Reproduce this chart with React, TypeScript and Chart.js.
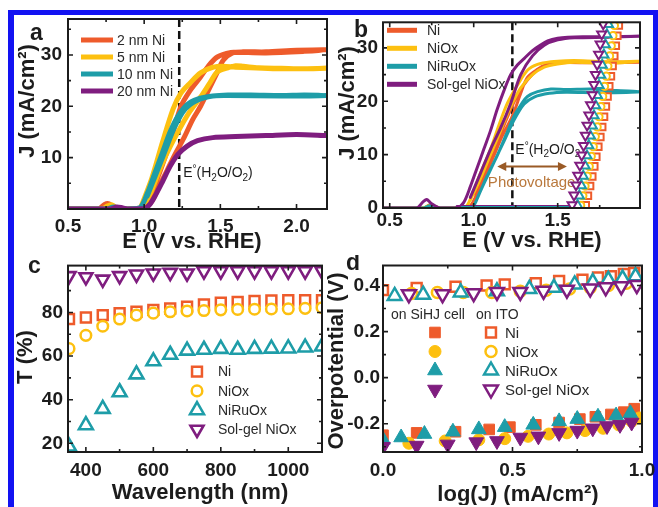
import React, { useEffect, useRef } from 'react';
import { Chart, registerables } from 'chart.js';
Chart.register(...registerables);

const FONT = '"Liberation Sans", Arial, Helvetica, sans-serif';
const INK = '#1c1c1c';
const ORANGE = '#EE5B2B';
const YELLOW = '#FDC010';
const TEAL = '#1E9DA8';
const PURPLE = '#7F1D7F';
const BLUE = '#1212F2';
const COLORS = [ORANGE, YELLOW, TEAL, PURPLE];

// ---------------- panel a ----------------
const A_SERIES = ['2 nm Ni', '5 nm Ni', '10 nm Ni', '20 nm Ni'];
const A_X_TICKS = [0.5, 1.0, 1.5, 2.0];
const A_X_LABELS = ['0.5', '1.0', '1.5', '2.0'];
const A_Y_TICKS = [10, 20, 30];
const A_Y_LABELS = ['10', '20', '30'];
const E0 = 1.23;
const A_NI2_E = [0.50, 0.70, 0.74, 0.77, 0.80, 0.90, 1.00, 1.05, 1.10, 1.15, 1.20, 1.26, 1.32, 1.37, 1.42, 1.47, 1.52, 1.58, 1.65, 1.80, 2.00, 2.20, 2.05, 1.80, 1.62, 1.57, 1.48, 1.42, 1.37, 1.30, 1.24, 1.17, 1.10, 1.03, 0.98];
const A_NI2_J = [0, 0, 0.9, 1.0, 0.2, 0, 0.1, 1.5, 4.5, 7.5, 10.5, 13.8, 17.5, 20, 23, 26, 29, 30.4, 30.6, 30.6, 30.9, 31.0, 30.7, 30.4, 30.5, 30.5, 29.6, 27.8, 25.7, 23, 19.9, 13, 7, 2, 0.2];
const A_NI5_E = [0.50, 0.72, 0.76, 0.79, 0.82, 0.90, 0.98, 1.04, 1.10, 1.16, 1.24, 1.30, 1.37, 1.43, 1.48, 1.55, 1.60, 1.65, 1.75, 1.90, 2.05, 2.20, 1.90, 1.60, 1.52, 1.45, 1.37, 1.30, 1.24, 1.19, 1.12, 1.05, 0.98];
const A_NI5_J = [0, 0, 0.6, 0.8, 0.2, 0, 0.3, 3, 7.5, 11.5, 16, 19, 21.8, 24.5, 26.7, 27.5, 27.9, 27.8, 27.5, 27.4, 27.3, 27.4, 27.3, 27.6, 27.8, 27.6, 26.5, 24.5, 22.5, 19.5, 13, 6, 0.5];
const A_NI10_E = [0.50, 0.75, 0.80, 0.85, 0.97, 1.02, 1.07, 1.12, 1.17, 1.22, 1.28, 1.35, 1.45, 1.55, 1.70, 1.90, 2.05, 2.20, 1.90, 1.55, 1.45, 1.35, 1.27, 1.20, 1.14, 1.08, 1.02];
const A_NI10_J = [0, 0, 0.4, 0, 0.2, 3, 7, 11, 15, 18, 20.3, 21.4, 22, 22.2, 22.2, 22.1, 22.2, 22.1, 22.0, 22.1, 22, 21.2, 19.5, 16, 11.5, 7, 2.5];
const A_NI20_E = [0.50, 0.78, 0.82, 0.86, 0.90, 1.00, 1.04, 1.08, 1.12, 1.17, 1.22, 1.28, 1.35, 1.45, 1.60, 1.80, 2.00, 2.20];
const A_NI20_J = [0, 0, 0.4, 0.2, 0, 0.1, 1.0, 3.0, 5.3, 8.3, 10.6, 12.2, 13.3, 13.9, 14.1, 14.3, 14.5, 14.3];
const A_E0_LABEL_J = 6.3;

// ---------------- panel b ----------------
const B_SERIES = ['Ni', 'NiOx', 'NiRuOx', 'Sol-gel NiOx'];
const B_X_TICKS = [0.5, 1.0, 1.5];
const B_X_LABELS = ['0.5', '1.0', '1.5'];
const B_Y_TICKS = [0, 10, 20, 30];
const B_Y_LABELS = ['0', '10', '20', '30'];
const B_SOL_E = [0.46, 0.66, 0.70, 0.72, 0.75, 0.80, 0.90, 0.94, 0.98, 1.02, 1.06, 1.10, 1.14, 1.18, 1.22, 1.26, 1.30, 1.35, 1.40, 1.44, 1.50, 1.56, 1.65, 1.80, 1.99, 1.80, 1.60, 1.50, 1.42, 1.35, 1.28, 1.22, 1.16, 1.10, 1.04, 0.98];
const B_SOL_J = [0, 0, 1.2, 1.6, 0.8, 0, 0, 1.0, 4, 7.5, 11, 14.5, 18.5, 22, 25, 26.8, 28, 29.5, 30.6, 31.3, 31.8, 32, 32.1, 32.1, 32.2, 32.0, 31.9, 31.5, 30.5, 28.5, 25, 19.6, 15, 11, 6.5, 2];
const B_NI_E = [0.46, 0.70, 0.74, 0.80, 0.97, 1.01, 1.06, 1.12, 1.17, 1.23, 1.28, 1.32, 1.38, 1.44, 1.50, 1.60, 1.80, 1.99, 1.70, 1.50, 1.40, 1.32, 1.25, 1.18, 1.12, 1.06, 1.01];
const B_NI_J = [0, 0, 0.6, 0, 0.2, 2, 5.5, 9.8, 13.5, 17.2, 21.5, 24.5, 26, 27, 27.3, 27.4, 27.3, 27.3, 27.2, 27.2, 26.3, 24, 20.5, 15.5, 11, 6.5, 2.5];
const B_NIOX_E = [0.46, 0.70, 0.74, 0.80, 0.95, 0.99, 1.04, 1.10, 1.15, 1.20, 1.26, 1.32, 1.38, 1.46, 1.55, 1.65, 1.80, 1.99, 1.80, 1.60, 1.50, 1.42, 1.35, 1.28, 1.22, 1.16, 1.10, 1.04, 0.98];
const B_NIOX_J = [0, 0, 0.5, 0, 0.2, 2.5, 6.5, 11, 15.5, 19.6, 23, 25.8, 26.9, 27.4, 27.6, 27.6, 27.4, 27.5, 27.1, 27.3, 27, 26.4, 25, 22.5, 19, 14.5, 10, 5.5, 1.5];
const B_NIRU_E = [0.46, 0.70, 0.74, 0.80, 0.99, 1.03, 1.08, 1.14, 1.19, 1.24, 1.28, 1.32, 1.38, 1.46, 1.55, 1.70, 1.85, 1.99, 1.75, 1.55, 1.45, 1.36, 1.30, 1.24, 1.18, 1.12, 1.06, 1.01];
const B_NIRU_J = [0, 0, 0.4, 0, 0.2, 2.5, 6, 9.8, 13.5, 17.2, 19.3, 20.9, 21.8, 22.3, 22.2, 22.3, 22.0, 21.8, 21.6, 21.7, 21.5, 20.8, 19.5, 16.5, 12.5, 8.5, 4.5, 1];
// ITO electrodes: flat dark part and the steep rise (markers)
const B_SOL_ITO_FLAT_E = [0.90, 1.586];
const B_SOL_ITO_FLAT_J = [0.35, 0.35];
const B_NIRU_ITO_FLAT_E = [0.93, 1.618];
const B_NIRU_ITO_FLAT_J = [0.15, 0.15];
const B_NIOX_ITO_FLAT_E = [0.95, 1.637];
const B_NIOX_ITO_FLAT_J = [0.25, 0.25];
const B_NI_ITO_FLAT_E = [0.97, 1.667];
const B_NI_ITO_FLAT_J = [0.25, 0.25];
const B_SOL_ITO_E = [1.586, 1.597, 1.609, 1.620, 1.632, 1.643, 1.654, 1.665, 1.675, 1.686, 1.696, 1.706, 1.716, 1.725, 1.735, 1.744, 1.753, 1.762, 1.771, 1.779];
const B_SOL_ITO_J = [0.6, 2.4, 4.3, 6.1, 8.0, 9.9, 11.7, 13.6, 15.5, 17.4, 19.3, 21.2, 23.1, 25.0, 26.9, 28.8, 30.7, 32.6, 34.5, 36.3];
const B_NIRU_ITO_E = [1.618, 1.629, 1.641, 1.652, 1.663, 1.674, 1.685, 1.695, 1.706, 1.716, 1.726, 1.736, 1.746, 1.756, 1.765, 1.775, 1.784, 1.793, 1.802, 1.811];
const B_NIRU_ITO_J = [0.5, 2.3, 4.2, 6.0, 7.9, 9.8, 11.7, 13.5, 15.4, 17.3, 19.2, 21.1, 23.0, 24.9, 26.8, 28.7, 30.6, 32.5, 34.4, 36.2];
const B_NIOX_ITO_E = [1.637, 1.650, 1.663, 1.676, 1.688, 1.700, 1.712, 1.724, 1.735, 1.746, 1.757, 1.768, 1.779, 1.789, 1.799, 1.809, 1.819, 1.829, 1.838, 1.847];
const B_NIOX_ITO_J = [0.5, 2.3, 4.1, 6.0, 7.8, 9.7, 11.5, 13.4, 15.2, 17.1, 19.0, 20.9, 22.8, 24.7, 26.6, 28.5, 30.4, 32.3, 34.2, 36.1];
const B_NI_ITO_E = [1.667, 1.680, 1.693, 1.706, 1.718, 1.730, 1.742, 1.754, 1.765, 1.776, 1.787, 1.797, 1.807, 1.817, 1.827, 1.837, 1.846, 1.855, 1.864, 1.873];
const B_NI_ITO_J = [0.5, 2.3, 4.1, 5.9, 7.8, 9.6, 11.5, 13.3, 15.2, 17.1, 19.0, 20.9, 22.8, 24.7, 26.6, 28.5, 30.4, 32.3, 34.2, 36.1];
const B_PV_E = [1.14, 1.555];
const B_PV_J = 7.8;
const B_PV_TEXT = [1.345, 3.9];
const B_E0_LABEL_J = 10.2;

// ---------------- panel c ----------------
const C_SERIES = ['Ni', 'NiOx', 'NiRuOx', 'Sol-gel NiOx'];
const C_X_TICKS = [400, 600, 800, 1000];
const C_X_LABELS = ['400', '600', '800', '1000'];
const C_Y_TICKS = [20, 40, 60, 80];
const C_Y_LABELS = ['20', '40', '60', '80'];
const C_WL = [350, 400, 450, 500, 550, 600, 650, 700, 750, 800, 850, 900, 950, 1000, 1050, 1100];
const C_NI = [77, 77.7, 78.8, 79.7, 80.3, 81.2, 81.8, 82.7, 83.7, 84.5, 84.8, 85.3, 85.5, 85.6, 85.6, 85.6];
const C_NIOX = [63.4, 69.5, 73.7, 77, 78.8, 79.7, 80.3, 80.7, 80.9, 81.2, 81.4, 81.5, 81.6, 81.7, 81.9, 82.2];
const C_NIRU = [18.5, 28.3, 35.8, 43.4, 51.6, 57.6, 60.6, 62.5, 62.9, 63.3, 62.9, 63.3, 63.4, 63.5, 63.9, 64.4];
const C_SOL = [96.8, 96.3, 95.2, 96.8, 97.5, 98.0, 98.3, 98.0, 99.0, 99.0, 99.0, 99.0, 99.0, 99.0, 99.0, 99.0];

// ---------------- panel d ----------------
const D_SERIES = ['Ni', 'NiOx', 'NiRuOx', 'Sol-gel NiOx'];
const D_HEADERS = ['on SiHJ cell', 'on ITO'];
const D_X_TICKS = [0, 0.5, 1.0];
const D_X_LABELS = ['0.0', '0.5', '1.0'];
const D_Y_TICKS = [-0.2, 0, 0.2, 0.4];
const D_Y_LABELS = ['-0.2', '0.0', '0.2', '0.4'];
const D_NI_ITO_X = [0.0, 0.13, 0.28, 0.40, 0.47, 0.59, 0.68, 0.77, 0.83, 0.88, 0.93, 0.97];
const D_NI_ITO_V = [0.38, 0.39, 0.395, 0.40, 0.405, 0.41, 0.42, 0.425, 0.435, 0.44, 0.45, 0.455];
const D_NIOX_ITO_X = [0.11, 0.21, 0.31, 0.42, 0.53, 0.63, 0.72, 0.80, 0.87, 0.94, 0.99];
const D_NIOX_ITO_V = [0.365, 0.37, 0.37, 0.37, 0.375, 0.38, 0.385, 0.39, 0.40, 0.41, 0.415];
const D_NIRU_ITO_X = [0.045, 0.155, 0.30, 0.44, 0.565, 0.66, 0.74, 0.81, 0.87, 0.925, 0.975];
const D_NIRU_ITO_V = [0.355, 0.36, 0.37, 0.375, 0.385, 0.39, 0.405, 0.415, 0.425, 0.43, 0.44];
const D_SOL_ITO_X = [0.10, 0.23, 0.35, 0.44, 0.53, 0.62, 0.71, 0.80, 0.86, 0.92, 0.98];
const D_SOL_ITO_V = [0.362, 0.362, 0.367, 0.372, 0.372, 0.377, 0.382, 0.387, 0.392, 0.397, 0.402];
const D_NI_SI_X = [0.0, 0.13, 0.28, 0.41, 0.49, 0.59, 0.68, 0.76, 0.82, 0.88, 0.93, 0.97];
const D_NI_SI_V = [-0.25, -0.24, -0.235, -0.225, -0.215, -0.205, -0.195, -0.18, -0.17, -0.16, -0.15, -0.135];
const D_NIOX_SI_X = [0.10, 0.24, 0.37, 0.47, 0.56, 0.64, 0.71, 0.78, 0.85, 0.91, 0.96, 0.99];
const D_NIOX_SI_V = [-0.285, -0.275, -0.27, -0.265, -0.255, -0.245, -0.24, -0.23, -0.22, -0.205, -0.19, -0.175];
const D_NIRU_SI_X = [0.0, 0.07, 0.16, 0.27, 0.37, 0.47, 0.58, 0.68, 0.75, 0.83, 0.90, 0.955];
const D_NIRU_SI_V = [-0.27, -0.26, -0.245, -0.235, -0.225, -0.215, -0.205, -0.19, -0.18, -0.17, -0.165, -0.155];
const D_SOL_SI_X = [0.0, 0.13, 0.25, 0.36, 0.44, 0.53, 0.60, 0.68, 0.75, 0.81, 0.865, 0.915, 0.96];
const D_SOL_SI_V = [-0.30, -0.295, -0.29, -0.28, -0.275, -0.26, -0.255, -0.24, -0.23, -0.22, -0.21, -0.205, -0.195];

// ---------------- helpers ----------------
const pts = (xs: number[], ys: number[]) => xs.map((x, i) => ({ x, y: ys[i] }));

function lineDs(data: any[], color: string, width: number, order: number) {
  return {
    data, borderColor: color, backgroundColor: color, borderWidth: width,
    pointRadius: 0, pointHoverRadius: 0, tension: 0.3, fill: false, order, clip: 0,
    borderCapStyle: 'round', borderJoinStyle: 'round',
  };
}
function markDs(data: any[], color: string, style: string, r: number, filled: boolean, bw: number, order: number, rot = 0) {
  return {
    data, showLine: false, borderColor: color, backgroundColor: filled ? color : '#ffffff',
    pointBorderColor: color, pointBackgroundColor: filled ? color : '#ffffff',
    pointStyle: style, pointRadius: r, pointHoverRadius: r, pointRotation: rot,
    pointBorderWidth: bw, order, clip: 0,
  };
}

function axisCfg(pos: string, min: number, max: number, ticks: number[], labels: string[], size: number, pad: number) {
  return {
    type: 'linear', position: pos, min, max,
    grid: { display: false, drawTicks: false },
    border: { display: false },
    title: { display: false },
    afterBuildTicks: (s: any) => { s.ticks = ticks.map((v) => ({ value: v })); },
    afterFit: (s: any) => {
      if (pos === 'bottom') s.height = size; else s.width = size;
      s.paddingLeft = 0; s.paddingRight = 0; s.paddingTop = 0; s.paddingBottom = 0;
    },
    ticks: {
      autoSkip: false, maxRotation: 0, minRotation: 0, padding: pad,
      color: INK, font: { family: FONT, size: 19, weight: 'bold' },
      callback: (_v: any, i: number) => labels[i],
    },
  };
}

function drawMarker(ctx: any, style: string, x: number, y: number, r: number, color: string, filled: boolean, lw: number) {
  ctx.beginPath();
  if (style === 'rect') {
    const s = r * Math.SQRT1_2;
    ctx.rect(x - s, y - s, 2 * s, 2 * s);
  } else if (style === 'circle') {
    ctx.arc(x, y, r, 0, Math.PI * 2);
  } else if (style === 'triangle') {
    ctx.moveTo(x, y - r); ctx.lineTo(x + 0.866 * r, y + 0.5 * r); ctx.lineTo(x - 0.866 * r, y + 0.5 * r);
  } else {
    ctx.moveTo(x, y + r); ctx.lineTo(x + 0.866 * r, y - 0.5 * r); ctx.lineTo(x - 0.866 * r, y - 0.5 * r);
  }
  ctx.closePath();
  ctx.fillStyle = filled ? color : '#ffffff';
  ctx.fill();
  ctx.strokeStyle = color; ctx.lineWidth = lw; ctx.stroke();
}

function drawE0(ctx: any, x: number, y: number, size: number) {
  const big = `${size}px ${FONT}`;
  const small = `${Math.round(size * 0.68)}px ${FONT}`;
  let cx = x;
  ctx.fillStyle = INK; ctx.textAlign = 'left'; ctx.textBaseline = 'alphabetic';
  const put = (t: string, f: string, dy: number) => { ctx.font = f; ctx.fillText(t, cx, y + dy); cx += ctx.measureText(t).width; };
  put('E', big, 0); put('°', small, -size * 0.3); put('(H', big, 0); put('2', small, size * 0.28);
  put('O/O', big, 0); put('2', small, size * 0.28); put(')', big, 0);
}

interface Decor {
  xTitle: string; yTitle: string; xTitlePos: number[]; yTitlePos: number[];
  letter: string; letterPos: number[]; dashX?: number;
  under?: (ctx: any, chart: any) => void; over?: (ctx: any, chart: any) => void;
}

function tickList(scale: any) {
  const vals: number[] = scale.ticks.map((t: any) => t.value);
  const out: number[][] = [];
  const step = vals.length > 1 ? vals[1] - vals[0] : 0;
  const eps = step * 0.05;
  if (step && vals[0] - step / 2 > scale.min + eps) out.push([vals[0] - step / 2, 3]);
  vals.forEach((v) => {
    out.push([v, 5]);
    const m = v + step / 2;
    if (step && m < scale.max - eps) out.push([m, 3]);
  });
  return out;
}

function decorPlugin(d: Decor) {
  return {
    id: 'decor',
    beforeDatasetsDraw(chart: any) {
      const { ctx, chartArea: a, scales } = chart;
      ctx.save();
      if (d.dashX !== undefined) {
        const x = scales.x.getPixelForValue(d.dashX);
        ctx.strokeStyle = '#111'; ctx.lineWidth = 2.5; ctx.setLineDash([8, 4]);
        ctx.beginPath(); ctx.moveTo(x, a.top); ctx.lineTo(x, a.bottom); ctx.stroke();
        ctx.setLineDash([]);
      }
      if (d.under) d.under(ctx, chart);
      ctx.restore();
    },
    afterDatasetsDraw(chart: any) {
      const { ctx, chartArea: a, scales } = chart;
      ctx.save();
      ctx.strokeStyle = INK; ctx.lineWidth = 2;
      ctx.strokeRect(a.left, a.top, a.right - a.left, a.bottom - a.top);
      ctx.lineWidth = 1.6;
      ctx.beginPath();
      tickList(scales.x).forEach(([v, len]) => {
        const px = scales.x.getPixelForValue(v);
        ctx.moveTo(px, a.bottom); ctx.lineTo(px, a.bottom - len);
        ctx.moveTo(px, a.top); ctx.lineTo(px, a.top + len);
      });
      tickList(scales.y).forEach(([v, len]) => {
        const py = scales.y.getPixelForValue(v);
        ctx.moveTo(a.left, py); ctx.lineTo(a.left + len, py);
        ctx.moveTo(a.right, py); ctx.lineTo(a.right - len, py);
      });
      ctx.stroke();
      // axis titles
      ctx.fillStyle = INK;
      ctx.font = `bold 22px ${FONT}`;
      ctx.textAlign = 'center'; ctx.textBaseline = 'middle';
      ctx.fillText(d.xTitle, d.xTitlePos[0], d.xTitlePos[1]);
      ctx.save();
      ctx.translate(d.yTitlePos[0], d.yTitlePos[1]);
      ctx.rotate(-Math.PI / 2);
      ctx.fillText(d.yTitle, 0, 0);
      ctx.restore();
      // panel letter
      ctx.font = `bold 23px ${FONT}`;
      ctx.textAlign = 'left'; ctx.textBaseline = 'alphabetic';
      ctx.fillText(d.letter, d.letterPos[0], d.letterPos[1]);
      if (d.over) d.over(ctx, chart);
      ctx.restore();
    },
  };
}

function makeConfig(datasets: any[], x: any, y: any, padding: any, decor: Decor) {
  return {
    type: 'line',
    data: { datasets },
    options: {
      responsive: false, maintainAspectRatio: false, animation: false, events: [],
      layout: { padding },
      scales: { x, y },
      plugins: { legend: { display: false }, tooltip: { enabled: false } },
    },
    plugins: [decorPlugin(decor)],
  };
}

// ---------------- panel configs ----------------
function configA() {
  const ds = [
    lineDs(pts(A_NI2_E, A_NI2_J), ORANGE, 5, 3),
    lineDs(pts(A_NI5_E, A_NI5_J), YELLOW, 5, 2),
    lineDs(pts(A_NI10_E, A_NI10_J), TEAL, 5, 1),
    lineDs(pts(A_NI20_E, A_NI20_J), PURPLE, 5, 0),
  ];
  return makeConfig(ds,
    axisCfg('bottom', 0.5, 2.2, A_X_TICKS, A_X_LABELS, 46, 6),
    axisCfg('left', 0, 37, A_Y_TICKS, A_Y_LABELS, 54, 6),
    { left: 0, top: 4, right: 7, bottom: 0 },
    {
      xTitle: 'E (V vs. RHE)', yTitle: 'J (mA/cm²)', xTitlePos: [178, 227], yTitlePos: [14, 86],
      letter: 'a', letterPos: [16, 25], dashX: E0,
      under: (ctx, chart) => {
        const { scales } = chart;
        drawE0(ctx, scales.x.getPixelForValue(E0) + 4, scales.y.getPixelForValue(A_E0_LABEL_J), 14);
      },
      over: (ctx, chart) => {
        const a = chart.chartArea;
        A_SERIES.forEach((name, i) => {
          const y = a.top + 21 + i * 17;
          ctx.strokeStyle = COLORS[i]; ctx.lineWidth = 5; ctx.lineCap = 'butt';
          ctx.beginPath(); ctx.moveTo(a.left + 13, y); ctx.lineTo(a.left + 45, y); ctx.stroke();
          ctx.fillStyle = '#2a2a2a'; ctx.font = `14px ${FONT}`; ctx.textAlign = 'left'; ctx.textBaseline = 'middle';
          ctx.fillText(name, a.left + 49, y + 1);
        });
      },
    });
}

function configB() {
  const ds = [
    lineDs(pts(B_NI_E, B_NI_J), ORANGE, 3, 7),
    lineDs(pts(B_NIOX_E, B_NIOX_J), YELLOW, 3, 6),
    lineDs(pts(B_NIRU_E, B_NIRU_J), TEAL, 3, 5),
    lineDs(pts(B_SOL_E, B_SOL_J), PURPLE, 3, 4),
    lineDs(pts(B_NI_ITO_FLAT_E, B_NI_ITO_FLAT_J), ORANGE, 2.5, 3.9),
    lineDs(pts(B_NIOX_ITO_FLAT_E, B_NIOX_ITO_FLAT_J), YELLOW, 2.5, 3.8),
    lineDs(pts(B_SOL_ITO_FLAT_E, B_SOL_ITO_FLAT_J), PURPLE, 2.5, 3.7),
    lineDs(pts(B_NIRU_ITO_FLAT_E, B_NIRU_ITO_FLAT_J), TEAL, 2.5, 3.6),
    markDs(pts(B_NI_ITO_E, B_NI_ITO_J), ORANGE, 'rect', 4.6, false, 2, 3),
    markDs(pts(B_NIOX_ITO_E, B_NIOX_ITO_J), YELLOW, 'circle', 3.6, false, 2, 2),
    markDs(pts(B_NIRU_ITO_E, B_NIRU_ITO_J), TEAL, 'triangle', 5.3, false, 2, 1),
    markDs(pts(B_SOL_ITO_E, B_SOL_ITO_J), PURPLE, 'triangle', 5.3, false, 2, 0, 180),
  ];
  return makeConfig(ds,
    axisCfg('bottom', 0.46, 1.99, B_X_TICKS, B_X_LABELS, 47, 1),
    axisCfg('left', 0, 34.8, B_Y_TICKS, B_Y_LABELS, 49, 5),
    { left: 0, top: 4, right: 10, bottom: 0 },
    {
      xTitle: 'E (V vs. RHE)', yTitle: 'J (mA/cm²)', xTitlePos: [198, 226], yTitlePos: [14, 88],
      letter: 'b', letterPos: [20, 22], dashX: E0,
      under: (ctx, chart) => {
        const { scales } = chart;
        const sx = scales.x, sy = scales.y;
        drawE0(ctx, sx.getPixelForValue(E0) + 3, sy.getPixelForValue(B_E0_LABEL_J), 14);
        const x1 = sx.getPixelForValue(B_PV_E[0]), x2 = sx.getPixelForValue(B_PV_E[1]);
        const y = sy.getPixelForValue(B_PV_J);
        ctx.strokeStyle = '#9A5A26'; ctx.fillStyle = '#9A5A26'; ctx.lineWidth = 2;
        ctx.beginPath(); ctx.moveTo(x1 + 6, y); ctx.lineTo(x2 - 6, y); ctx.stroke();
        ctx.beginPath(); ctx.moveTo(x1, y); ctx.lineTo(x1 + 9, y - 4.5); ctx.lineTo(x1 + 9, y + 4.5); ctx.closePath(); ctx.fill();
        ctx.beginPath(); ctx.moveTo(x2, y); ctx.lineTo(x2 - 9, y - 4.5); ctx.lineTo(x2 - 9, y + 4.5); ctx.closePath(); ctx.fill();
        ctx.fillStyle = '#B9783C'; ctx.font = `15px ${FONT}`; ctx.textAlign = 'center'; ctx.textBaseline = 'alphabetic';
        ctx.fillText('Photovoltage', sx.getPixelForValue(B_PV_TEXT[0]), sy.getPixelForValue(B_PV_TEXT[1]));
      },
      over: (ctx, chart) => {
        const a = chart.chartArea;
        B_SERIES.forEach((name, i) => {
          const y = a.top + 8 + i * 18;
          ctx.strokeStyle = COLORS[i]; ctx.lineWidth = 5; ctx.lineCap = 'butt';
          ctx.beginPath(); ctx.moveTo(a.left + 4, y); ctx.lineTo(a.left + 34, y); ctx.stroke();
          ctx.fillStyle = '#2a2a2a'; ctx.font = `14px ${FONT}`; ctx.textAlign = 'left'; ctx.textBaseline = 'middle';
          ctx.fillText(name, a.left + 44, y + 1);
        });
      },
    });
}

const C_STYLES = [
  { style: 'rect', r: 7, lw: 2.5 },
  { style: 'circle', r: 5.3, lw: 2.5 },
  { style: 'triangle', r: 8, lw: 2.6 },
  { style: 'down', r: 7.5, lw: 2.6 },
];

function configC() {
  const ds = [
    markDs(pts(C_WL, C_NI), ORANGE, 'rect', 7, false, 2.5, 3),
    markDs(pts(C_WL, C_NIOX), YELLOW, 'circle', 5.3, false, 2.5, 2),
    markDs(pts(C_WL, C_NIRU), TEAL, 'triangle', 8, false, 2.6, 1),
    markDs(pts(C_WL, C_SOL), PURPLE, 'triangle', 7.5, false, 2.6, 0, 180),
  ];
  return makeConfig(ds,
    axisCfg('bottom', 347, 1100, C_X_TICKS, C_X_LABELS, 53, 7),
    axisCfg('left', 16, 101.5, C_Y_TICKS, C_Y_LABELS, 54, 5),
    { left: 0, top: 8, right: 12, bottom: 0 },
    {
      xTitle: 'Wavelength (nm)', yTitle: 'T (%)', xTitlePos: [186, 238], yTitlePos: [12, 102],
      letter: 'c', letterPos: [14, 18],
      over: (ctx, chart) => {
        const a = chart.chartArea;
        C_SERIES.forEach((name, i) => {
          const y = a.top + 106 + i * 19.3;
          const st = C_STYLES[i];
          drawMarker(ctx, st.style, a.left + 129, y, st.r, COLORS[i], false, st.lw);
          ctx.fillStyle = '#2a2a2a'; ctx.font = `14px ${FONT}`; ctx.textAlign = 'left'; ctx.textBaseline = 'middle';
          ctx.fillText(name, a.left + 150, y + 1);
        });
      },
    });
}

const D_STYLES = [
  { style: 'rect', rf: 7.5, ro: 7 },
  { style: 'circle', rf: 6, ro: 5.5 },
  { style: 'triangle', rf: 8.5, ro: 8 },
  { style: 'down', rf: 8.5, ro: 8 },
];

function configD() {
  const ds = [
    markDs(pts(D_NI_SI_X, D_NI_SI_V), ORANGE, 'rect', 7.5, true, 1, 7),
    markDs(pts(D_NIOX_SI_X, D_NIOX_SI_V), YELLOW, 'circle', 6, true, 1, 6),
    markDs(pts(D_NIRU_SI_X, D_NIRU_SI_V), TEAL, 'triangle', 8.5, true, 1, 5),
    markDs(pts(D_SOL_SI_X, D_SOL_SI_V), PURPLE, 'triangle', 8.5, true, 1, 4, 180),
    markDs(pts(D_NI_ITO_X, D_NI_ITO_V), ORANGE, 'rect', 7, false, 2.5, 3),
    markDs(pts(D_NIOX_ITO_X, D_NIOX_ITO_V), YELLOW, 'circle', 5.5, false, 2.5, 2),
    markDs(pts(D_NIRU_ITO_X, D_NIRU_ITO_V), TEAL, 'triangle', 8, false, 2.5, 1),
    markDs(pts(D_SOL_ITO_X, D_SOL_ITO_V), PURPLE, 'triangle', 8, false, 2.5, 0, 180),
  ];
  return makeConfig(ds,
    axisCfg('bottom', 0, 1.0, D_X_TICKS, D_X_LABELS, 53, 7),
    axisCfg('left', -0.323, 0.487, D_Y_TICKS, D_Y_LABELS, 57, 3),
    { left: 0, top: 8, right: 14, bottom: 0 },
    {
      xTitle: 'log(J) (mA/cm²)', yTitle: 'Overpotential (V)', xTitlePos: [192, 240], yTitlePos: [11, 106],
      letter: 'd', letterPos: [20, 15],
      over: (ctx, chart) => {
        const a = chart.chartArea;
        ctx.fillStyle = '#2a2a2a'; ctx.font = `14px ${FONT}`; ctx.textAlign = 'left'; ctx.textBaseline = 'middle';
        ctx.fillText(D_HEADERS[0], a.left + 8, a.top + 50);
        ctx.fillText(D_HEADERS[1], a.left + 93, a.top + 50);
        D_SERIES.forEach((name, i) => {
          const y = a.top + 67 + i * 19;
          const st = D_STYLES[i];
          drawMarker(ctx, st.style, a.left + 52, y, st.rf, COLORS[i], true, 1);
          drawMarker(ctx, st.style, a.left + 108, y, st.ro, COLORS[i], false, 2.5);
          ctx.fillStyle = '#2a2a2a'; ctx.font = `15px ${FONT}`; ctx.textAlign = 'left'; ctx.textBaseline = 'middle';
          ctx.fillText(name, a.left + 122, y + 1);
        });
      },
    });
}

function Panel(props: { left: number; top: number; width: number; height: number; make: () => any }) {
  const ref = useRef<HTMLCanvasElement | null>(null);
  useEffect(() => {
    if (!ref.current) return;
    const chart = new Chart(ref.current, props.make());
    return () => chart.destroy();
  }, []);
  return (
    <canvas
      ref={ref}
      width={props.width}
      height={props.height}
      style={{ position: 'absolute', left: props.left, top: props.top, width: props.width, height: props.height, display: 'block' }}
    />
  );
}

export default function App() {
  return (
    <div style={{ position: 'fixed', left: 0, top: 0, width: 658, height: 507, background: '#ffffff', overflow: 'hidden' }}>
      <div
        style={{
          position: 'absolute', left: 8, top: 10, width: 639, height: 520,
          borderTop: `5px solid ${BLUE}`, borderLeft: `6px solid ${BLUE}`, borderRight: `5px solid ${BLUE}`,
        }}
      />
      <Panel left={14} top={15} width={320} height={240} make={configA} />
      <Panel left={334} top={15} width={316} height={240} make={configB} />
      <Panel left={14} top={255} width={320} height={250} make={configC} />
      <Panel left={326} top={255} width={330} height={250} make={configD} />
    </div>
  );
}
